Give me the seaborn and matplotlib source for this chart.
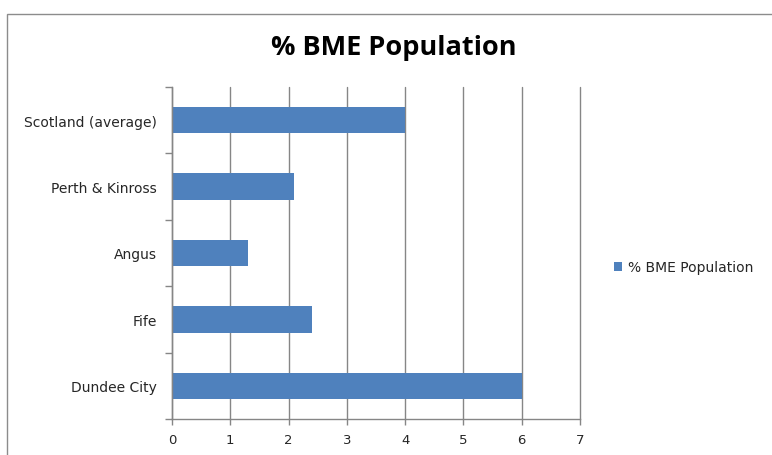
import matplotlib
matplotlib.use("Agg")
import matplotlib.pyplot as plt
from matplotlib.patches import Rectangle
import seaborn as sns
import pandas as pd

areas = ["Scotland (average)", "Perth & Kinross", "Angus", "Fife", "Dundee City"]
bme_pct = [4.0, 2.1, 1.3, 2.4, 6.0]
x_ticks = [0, 1, 2, 3, 4, 5, 6, 7]
series_name = "% BME Population"

df = pd.DataFrame({"area": areas, "pct": bme_pct})

sns.set_theme(style="white")
plt.rcParams["font.family"] = ["DejaVu Sans"]

BAR = "#4F81BD"
GRID = "#868686"

fig = plt.figure(figsize=(7.72, 4.56), dpi=100)
fig.patch.set_facecolor("white")

# outer chart frame
fig.patches.append(Rectangle((7 / 772, -0.1), 1.2, 1 - 15 / 456 + 0.1,
                             transform=fig.transFigure, fill=False,
                             edgecolor="#8C8C8C", linewidth=1.0))

ax = fig.add_axes([172 / 772, 1 - 420 / 456, (580 - 172) / 772, (420 - 88) / 456])
sns.barplot(data=df, x="pct", y="area", order=areas, orient="h",
            color=BAR, saturation=1, width=0.4, label=series_name,
            linewidth=0, ax=ax)

ax.set_xlim(0, 7)
ax.set_ylim(len(areas) - 0.5, -0.5)
ax.set_xticks(x_ticks)
ax.set_xticklabels([str(t) for t in x_ticks])
ax.set_xlabel("")
ax.set_ylabel("")

ax.xaxis.grid(True, color=GRID, linewidth=1.0)
ax.yaxis.grid(False)
ax.set_axisbelow(True)
for gl in ax.get_xgridlines():
    gl.set_clip_on(False)

for side in ["top", "right"]:
    ax.spines[side].set_visible(False)
for side in ["left", "bottom"]:
    ax.spines[side].set_color(GRID)
    ax.spines[side].set_linewidth(1.0)

# category separators on the y axis
ax.set_yticks([i - 0.5 for i in range(len(areas) + 1)], minor=True)
ax.tick_params(axis="y", which="major", length=0, pad=11, labelsize=10, labelcolor="#262626")
ax.tick_params(axis="y", which="minor", length=5, width=1.0, color=GRID, direction="out", left=True)
ax.tick_params(axis="x", which="major", length=4, width=1.0, color=GRID, direction="out",
               bottom=True, pad=6, labelsize=9.5, labelcolor="#262626")

fig.text(394 / 772, 1 - 48 / 456, "% BME Population", ha="center", va="center",
         fontsize=19.5, fontweight="bold", family=["Open Sans", "DejaVu Sans"], color="black")

leg = ax.legend(loc="center left", bbox_to_anchor=(601 / 772, 1 - 268 / 456),
                bbox_transform=fig.transFigure, frameon=False,
                prop={"family": "DejaVu Sans", "size": 10},
                handlelength=0.6, handleheight=0.6, handletextpad=0.45)
for t in leg.get_texts():
    t.set_color("#262626")

fig.savefig("out.png", dpi=100, facecolor="white")
